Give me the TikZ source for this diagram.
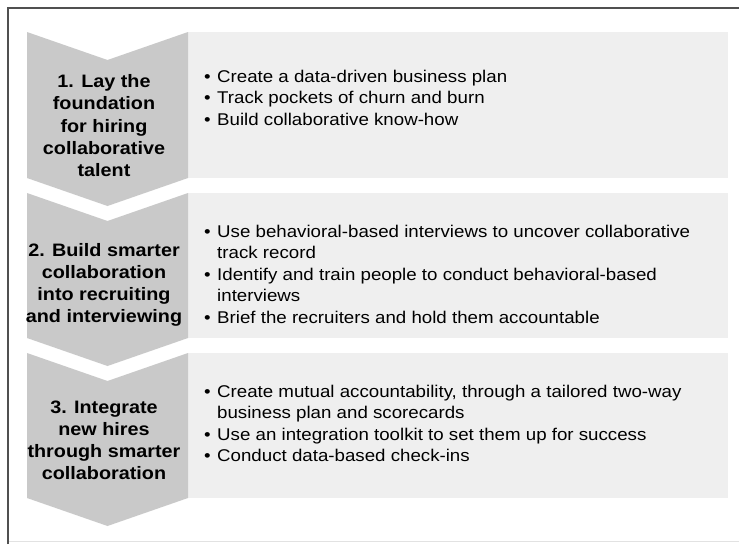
\documentclass[tikz,border=0pt]{standalone}
\usepackage{fontspec}
\setmainfont{Liberation Sans}[FakeStretch=1.1]
\definecolor{chevgray}{HTML}{C9C9C9}
\definecolor{panelgray}{HTML}{EFEFEF}
\definecolor{framegray}{HTML}{505050}
\definecolor{rulegray}{HTML}{E2E2E2}
\newcommand{\bul}{\makebox[13pt][l]{\textbullet}}
\newcommand{\cont}{\hspace*{13pt}}
\begin{document}
\begin{tikzpicture}[x=1pt,y=-1pt,
  chevron/.style={fill=chevgray, draw=none},
  panel/.style={fill=panelgray, draw=none},
  steplabel/.style={anchor=north, align=center, inner sep=0pt,
    font=\bfseries\fontsize{18}{22.2}\selectfont},
  itemlist/.style={anchor=north west, align=left, inner sep=0pt,
    font=\fontsize{17}{21.5}\selectfont}]
\useasboundingbox (0,0) rectangle (739,544);
\fill[white] (0,0) rectangle (739,544);

% outer frame
\draw[rulegray, line width=1pt] (8,541) -- (739,541);
\draw[framegray, line width=1.3pt] (8,544) -- (8,8) -- (739,8);

% panels
\fill[panel] (188,32) rectangle (728,178);
\fill[panel] (188,193) rectangle (728,338);
\fill[panel] (188,353) rectangle (728,498);

% chevrons
\fill[chevron] (27,32) -- (107.5,60) -- (188,32) -- (188,178) -- (107.5,206) -- (27,178) -- cycle;
\fill[chevron] (27,193) -- (107.5,221) -- (188,193) -- (188,338) -- (107.5,366) -- (27,338) -- cycle;
\fill[chevron] (27,353) -- (107.5,381) -- (188,353) -- (188,498) -- (107.5,526) -- (27,498) -- cycle;

% step labels
\node[steplabel] (s1) at (104,72) {\strut 1. Lay the\\foundation\\for hiring\\collaborative\\talent};
\node[steplabel] (s2) at (104,240.5) {\strut 2. Build smarter\\collaboration\\into recruiting\\and interviewing};
\node[steplabel] (s3) at (104,397.5) {\strut 3. Integrate\\new hires\\through smarter\\collaboration};

% item lists
\node[itemlist] (l1) at (204,67) {\strut\bul Create a data-driven business plan\\
  \bul Track pockets of churn and burn\\
  \bul Build collaborative know-how};
\node[itemlist] (l2) at (204,222) {\strut\bul Use behavioral-based interviews to uncover collaborative\\
  \cont track record\\
  \bul Identify and train people to conduct behavioral-based\\
  \cont interviews\\
  \bul Brief the recruiters and hold them accountable};
\node[itemlist] (l3) at (204,382) {\strut\bul Create mutual accountability, through a tailored two-way\\
  \cont business plan and scorecards\\
  \bul Use an integration toolkit to set them up for success\\
  \bul Conduct data-based check-ins};
\end{tikzpicture}
\end{document}
